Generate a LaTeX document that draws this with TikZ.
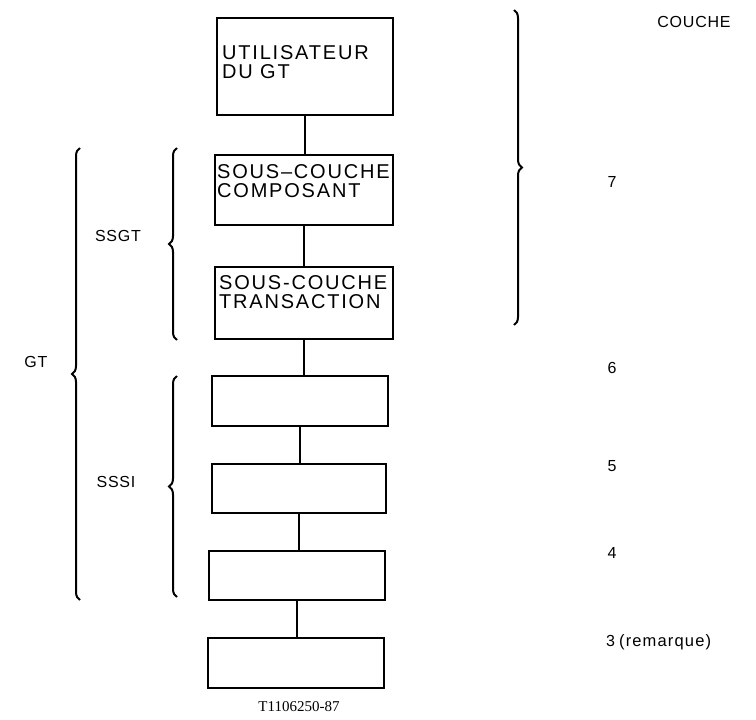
\documentclass[tikz,border=0pt]{standalone}
\usepackage{fontspec}
\setmainfont{Liberation Sans}
\newfontfamily\boxfont[LetterSpace=9]{Liberation Sans}
\newfontfamily\lblfont[LetterSpace=5]{Liberation Sans}
\newfontfamily\remfont[LetterSpace=7]{Liberation Sans}
\newfontfamily\capfont{Liberation Serif}
\usetikzlibrary{decorations.pathreplacing}
\begin{document}
\begin{tikzpicture}[x=1pt,y=-1pt,
  box/.style={draw, line width=1.8pt, inner sep=0pt},
  link/.style={line width=1.6pt},
  brc/.style={decorate, decoration={brace, amplitude=8pt}, line width=2pt},
  lbl/.style={font=\lblfont\fontsize{16}{18}\selectfont, inner sep=0pt},
  btxt/.style={font=\boxfont\fontsize{20}{19.5}\selectfont, anchor=north west, inner sep=0pt, align=left}]
\useasboundingbox (0,0) rectangle (756,720);
% boxes
\node[box, minimum width=176pt, minimum height=97pt] (b1) at (305,66.5) {};
\node[box, minimum width=178pt, minimum height=70pt] (b2) at (304,190) {};
\node[box, minimum width=178pt, minimum height=72pt] (b3) at (304,303) {};
\node[box, minimum width=176pt, minimum height=50pt] (b4) at (300,401) {};
\node[box, minimum width=174pt, minimum height=49pt] (b5) at (299,488.5) {};
\node[box, minimum width=176pt, minimum height=49pt] (b6) at (297,575.5) {};
\node[box, minimum width=176pt, minimum height=50pt] (b7) at (296,663) {};
% box texts
\node[btxt] (t1) at (222,45) {UTILISATEUR\\DU GT};
\node[btxt] (t2) at (217,164) {SOUS–COUCHE\\COMPOSANT};
\node[btxt] (t3) at (219,275) {SOUS-COUCHE\\TRANSACTION};
% connectors
\draw[link] (b1.south) -- (b1.south |- b2.north);
\draw[link] (b2.south) -- (b2.south |- b3.north);
\draw[link] (b3.south) -- (b3.south |- b4.north);
\draw[link] (b4.south) -- (b4.south |- b5.north);
\draw[link] (b5.south) -- (b5.south |- b6.north);
\draw[link] (b6.south) -- (b6.south |- b7.north);
% braces
\coordinate (r1) at (514,10);
\coordinate (r2) at (514,325);
\draw[brc] (r1) -- (r2);
\coordinate (g1) at (80,600);
\coordinate (g2) at (80,148);
\draw[brc] (g1) -- (g2);
\coordinate (s1) at (177,340);
\coordinate (s2) at (177,148);
\draw[brc] (s1) -- (s2);
\coordinate (i1) at (177,597);
\coordinate (i2) at (177,376);
\draw[brc] (i1) -- (i2);
% labels
\node[lbl] (gt) at (36,362) {GT};
\node[lbl] (ssgt) at (118,236) {SSGT};
\node[lbl] (sssi) at (116,482) {SSSI};
\node[lbl] (couche) at (694,22) {COUCHE};
\node[lbl] (n7) at (612,182) {7};
\node[lbl] (n6) at (612,368) {6};
\node[lbl] (n5) at (612,466) {5};
\node[lbl] (n4) at (612,553) {4};
\node[lbl, anchor=west] (n3) at (606,642) {3\hspace{4pt}{\remfont\fontsize{16.5}{18}\selectfont(remarque)}};
\node[font=\capfont\fontsize{15}{17}\selectfont, inner sep=0pt] (cap) at (299,707) {T1106250-87};
\end{tikzpicture}
\end{document}
